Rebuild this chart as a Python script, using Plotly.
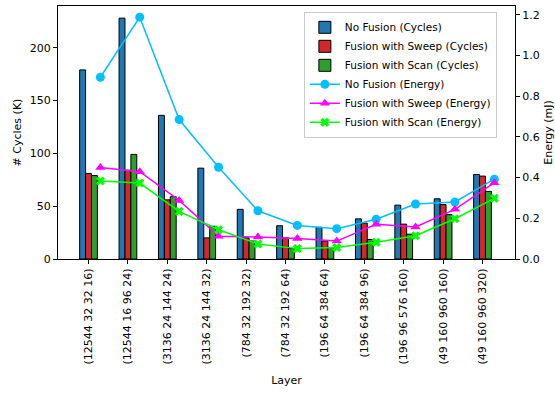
import plotly.graph_objects as go

# Layer shapes on the x axis
layers = [
    "(12544 32 32 16)", "(12544 16 96 24)", "(3136 24 144 24)", "(3136 24 144 32)",
    "(784 32 192 32)", "(784 32 192 64)", "(196 64 384 64)", "(196 64 384 96)",
    "(196 96 576 160)", "(49 160 960 160)", "(49 160 960 320)",
]

# Cycle counts (thousands)
cycles_no_fusion = [179, 228, 136, 86, 47, 31.5, 30, 38, 51, 57, 80]
cycles_sweep = [81, 84, 56, 20, 20, 20, 17, 34, 33, 51.5, 78.5]
cycles_scan = [79, 99, 59, 31, 17, 10, 11, 18.5, 23.5, 42, 64]

# Energy (mJ)
energy_no_fusion = [0.893, 1.188, 0.685, 0.451, 0.237, 0.165, 0.149, 0.195, 0.270, 0.280, 0.392]
energy_sweep = [0.449, 0.429, 0.288, 0.112, 0.108, 0.101, 0.088, 0.171, 0.157, 0.244, 0.375]
energy_scan = [0.383, 0.373, 0.234, 0.144, 0.074, 0.051, 0.056, 0.082, 0.114, 0.198, 0.298]

idx = list(range(len(layers)))
bar_w = 0.15
line_x = [i + 0.3 for i in idx]

FONT = "DejaVu Sans"
FS = 11

fig = go.Figure()

bar_specs = [
    ("No Fusion (Cycles)", cycles_no_fusion, "#1f77b4", -1.5 * bar_w),
    ("Fusion with Sweep (Cycles)", cycles_sweep, "#d62728", -0.5 * bar_w),
    ("Fusion with Scan (Cycles)", cycles_scan, "#2ca02c", 0.5 * bar_w),
]
for name, vals, color, off in bar_specs:
    fig.add_trace(go.Bar(
        x=idx, y=vals, name=name, offset=off, width=bar_w,
        marker=dict(color=color, line=dict(color="black", width=1)),
        yaxis="y",
    ))

line_specs = [
    ("No Fusion (Energy)", energy_no_fusion, "#00bfff", "circle", 9),
    ("Fusion with Sweep (Energy)", energy_sweep, "#ff00ff", "triangle-up", 9),
    ("Fusion with Scan (Energy)", energy_scan, "#00ff00", "x", 8),
]
for name, vals, color, sym, size in line_specs:
    fig.add_trace(go.Scatter(
        x=line_x, y=vals, name=name, mode="lines+markers",
        line=dict(color=color, width=1.5),
        marker=dict(color=color, symbol=sym, size=size, line=dict(width=0)),
        yaxis="y2",
    ))

axis_common = dict(
    showgrid=False, zeroline=False, showline=True, linecolor="black", linewidth=1,
    ticks="outside", ticklen=4, tickcolor="black", automargin=False,
    tickfont=dict(family=FONT, size=FS, color="black"),
)

fig.update_layout(
    width=555, height=393,
    margin=dict(l=58, r=40, t=6, b=134),
    plot_bgcolor="white", paper_bgcolor="white",
    barmode="overlay",
    font=dict(family=FONT, size=FS, color="black"),
    xaxis=dict(
        **axis_common, mirror=True, range=[-0.775, 10.825],
        tickvals=idx, ticktext=layers, tickangle=-90,
        title=dict(text="Layer", font=dict(family=FONT, size=FS), standoff=12),
    ),
    yaxis=dict(
        **axis_common, range=[0, 239.5], tickvals=[0, 50, 100, 150, 200],
        title=dict(text="# Cycles (K)", font=dict(family=FONT, size=FS), standoff=5),
    ),
    yaxis2=dict(
        **axis_common, overlaying="y", side="right", range=[0, 1.243],
        tickvals=[0, 0.2, 0.4, 0.6, 0.8, 1.0, 1.2], tickformat=".1f",
        title=dict(text="Energy (mJ)", font=dict(family=FONT, size=FS), standoff=14),
    ),
    legend=dict(
        x=0.538, y=0.977, xanchor="left", yanchor="top",
        bgcolor="rgba(255,255,255,0.8)", bordercolor="#cccccc", borderwidth=1,
        font=dict(family=FONT, size=10.5), tracegroupgap=0,
    ),
)

fig.write_html("out.html")
